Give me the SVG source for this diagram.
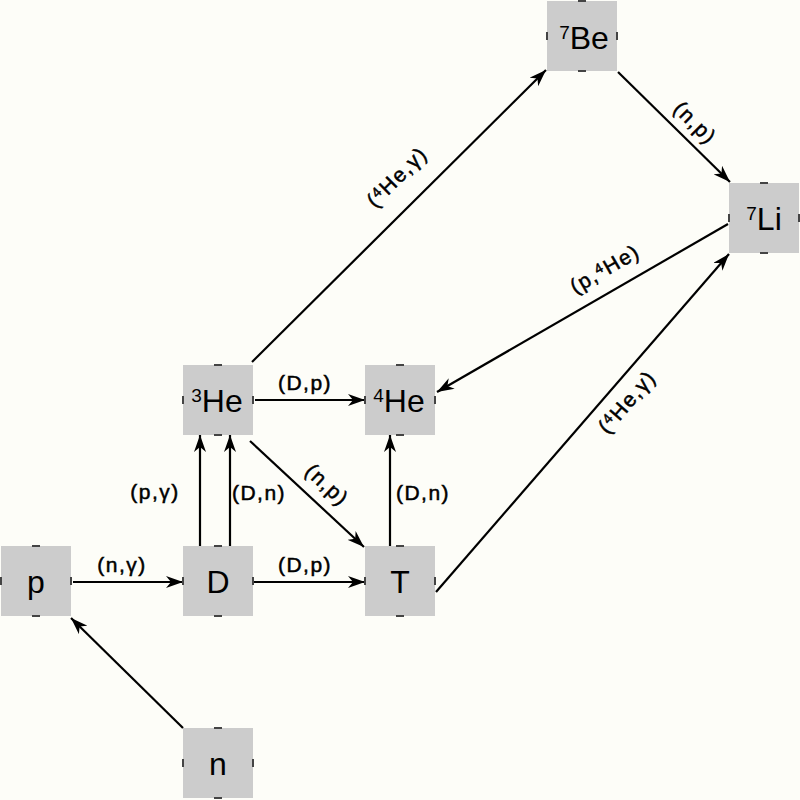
<svg xmlns="http://www.w3.org/2000/svg" width="800" height="800" viewBox="0 0 800 800">
  <style>
    .box { fill: #cccccc; stroke: #444444; stroke-width: 2; stroke-dasharray: 0 31 8 31; }
    .nt { font-family: "Liberation Sans", Arial, sans-serif; font-size: 32px; fill: #000; text-anchor: middle; }
    .sup { font-size: 19px; }
    .lb { font-family: "Liberation Sans", Arial, sans-serif; font-size: 21px; fill: #000; stroke: #000; stroke-width: 0.5; text-anchor: middle; letter-spacing: 1.5px; }
    .lsup { font-size: 14px; }
    .edge { stroke: #000; stroke-width: 2.2; fill: none; marker-end: url(#arr); }
  </style>
  <defs>
    <marker id="arr" markerUnits="userSpaceOnUse" markerWidth="18" markerHeight="12" refX="17" refY="6" orient="auto">
      <path d="M0,0 L17,6 L0,12 L5,6 Z" fill="#000"/>
    </marker>
  </defs>
  <rect x="0" y="0" width="800" height="800" fill="#fdfdf8"/>

  <g id="connectors">
    <line class="edge" x1="183" y1="728" x2="71" y2="618"/>
    <line class="edge" x1="73" y1="582" x2="183" y2="582"/>
    <line class="edge" x1="200" y1="546" x2="200" y2="435"/>
    <line class="edge" x1="230" y1="546" x2="230" y2="435"/>
    <line class="edge" x1="254" y1="582" x2="365" y2="582"/>
    <line class="edge" x1="255" y1="400" x2="365" y2="400"/>
    <line class="edge" x1="250" y1="441" x2="364" y2="547"/>
    <line class="edge" x1="390" y1="546" x2="390" y2="435"/>
    <line class="edge" x1="252" y1="362" x2="546" y2="70"/>
    <line class="edge" x1="618" y1="72" x2="730" y2="182"/>
    <line class="edge" x1="728" y1="224" x2="437" y2="392"/>
    <line class="edge" x1="436" y1="592" x2="729" y2="254"/>

    <text class="lb" x="122" y="572">(n,γ)</text>
    <text class="lb" x="155" y="499">(p,γ)</text>
    <text class="lb" x="259" y="500">(D,n)</text>
    <text class="lb" x="423" y="500">(D,n)</text>
    <text class="lb" x="305" y="390">(D,p)</text>
    <text class="lb" x="305" y="572">(D,p)</text>
    <text class="lb" transform="translate(327,485) rotate(43)" x="0" y="7">(n,p)</text>
    <text class="lb" transform="translate(695,123) rotate(45)" x="0" y="7">(n,p)</text>
    <text class="lb" transform="translate(397,177) rotate(-45)" x="0" y="7">(<tspan class="lsup" dy="-6">4</tspan><tspan dy="6">He,γ)</tspan></text>
    <text class="lb" transform="translate(605,269) rotate(-30)" x="0" y="7">(p,<tspan class="lsup" dy="-6">4</tspan><tspan dy="6">He)</tspan></text>
    <text class="lb" transform="translate(627,402) rotate(-49)" x="0" y="7">(<tspan class="lsup" dy="-6">4</tspan><tspan dy="6">He,γ)</tspan></text>
  </g>

  <g id="node-p">
    <rect class="box" x="1" y="546" width="70" height="70"/>
    <text class="nt" x="36" y="593">p</text>
  </g>
  <g id="node-n">
    <rect class="box" x="183" y="728" width="70" height="70"/>
    <text class="nt" x="218" y="775">n</text>
  </g>
  <g id="node-D">
    <rect class="box" x="183" y="546" width="70" height="70"/>
    <text class="nt" x="218" y="593">D</text>
  </g>
  <g id="node-T">
    <rect class="box" x="365" y="546" width="70" height="70"/>
    <text class="nt" x="400" y="593">T</text>
  </g>
  <g id="node-He3">
    <rect class="box" x="183" y="365" width="70" height="70"/>
    <text class="nt" x="217" y="412"><tspan class="sup" dy="-10">3</tspan><tspan dy="10">He</tspan></text>
  </g>
  <g id="node-He4">
    <rect class="box" x="365" y="365" width="70" height="70"/>
    <text class="nt" x="399" y="412"><tspan class="sup" dy="-10">4</tspan><tspan dy="10">He</tspan></text>
  </g>
  <g id="node-Be7">
    <rect class="box" x="547" y="1" width="70" height="70"/>
    <text class="nt" x="584" y="49"><tspan class="sup" dy="-10">7</tspan><tspan dy="10">Be</tspan></text>
  </g>
  <g id="node-Li7">
    <rect class="box" x="729" y="183" width="70" height="70"/>
    <text class="nt" x="764" y="230"><tspan class="sup" dy="-10">7</tspan><tspan dy="10">Li</tspan></text>
  </g>
</svg>
